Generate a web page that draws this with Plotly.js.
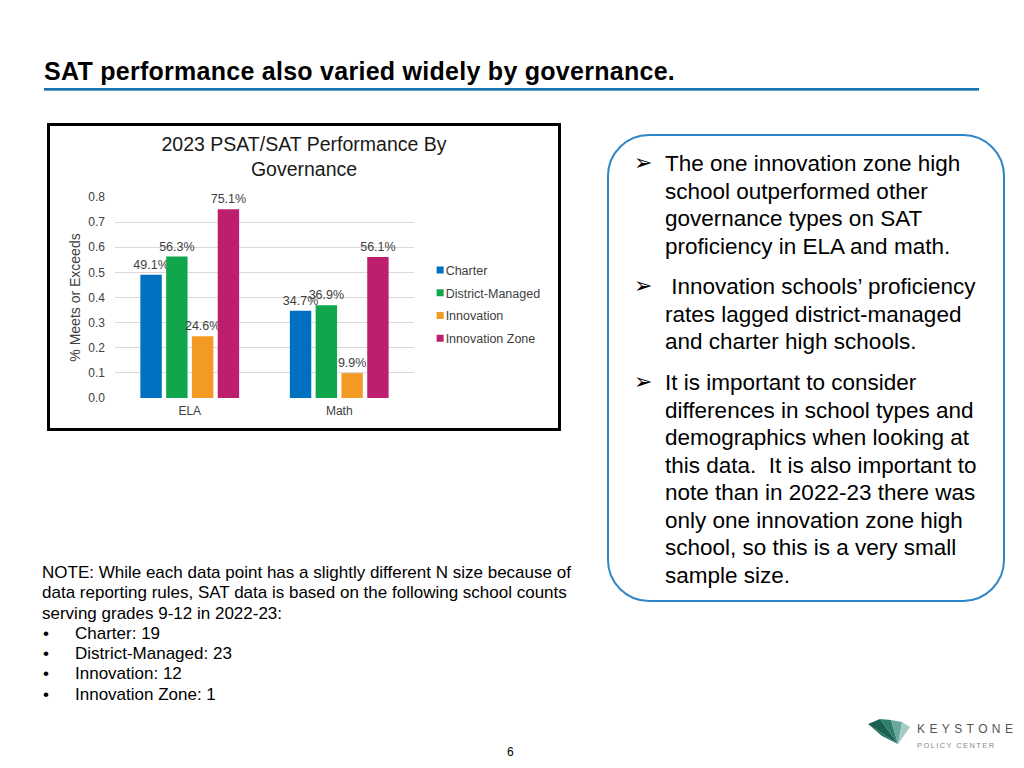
<!DOCTYPE html>
<html>
<head>
<meta charset="utf-8">
<script src="https://cdn.plot.ly/plotly-3.0.1.min.js"></script>
<style>
  html, body { margin:0; padding:0; width:1024px; height:768px; background:#fff; overflow:hidden;
    font-family: "Liberation Sans", Arial, Helvetica, sans-serif; color:#000; }
  #title { position:absolute; left:44px; top:57px; font-weight:bold; font-size:25px; letter-spacing:0.27px; white-space:nowrap; }
  #rule { position:absolute; left:44px; top:88px; width:935px; height:3px; background:linear-gradient(#1a74ad,#1a74ad 60%,#8cc0e0); }
  #chartbox { position:absolute; left:47px; top:123px; width:508px; height:302px; border:3px solid #000; }
  #chart { width:508px; height:302px; }
  #callout { position:absolute; left:607px; top:134px; width:394px; height:464px; border:2.5px solid #2f86c6; border-radius:42px; }
  .para { position:absolute; left:665px; width:330px; font-size:22.5px; line-height:27.5px; }
  .arrow { position:absolute; left:634px; font-size:22px; line-height:22px; font-family:"DejaVu Sans", sans-serif; }
  #note { position:absolute; left:42px; top:563px; font-size:17px; line-height:20.3px; width:545px; }
  #note .b { display:inline-block; width:32px; padding-left:1px; }
  #pg { position:absolute; left:507px; top:745px; font-size:12px; }
  #logo { position:absolute; left:860px; top:712px; }
</style>
</head>
<body>
<div id="title">SAT performance also varied widely by governance.</div>
<div id="rule"></div>
<div id="chartbox"><div id="chart"></div></div>

<div id="callout"></div>
<div class="arrow" style="top:152px">&#10146;</div>
<div class="para" style="top:150px">The one innovation zone high school outperformed other governance types on SAT proficiency in ELA and math.</div>
<div class="arrow" style="top:275px">&#10146;</div>
<div class="para" style="top:273px">&nbsp;Innovation schools’ proficiency rates lagged district-managed and charter high schools.</div>
<div class="arrow" style="top:371px">&#10146;</div>
<div class="para" style="top:369px">It is important to consider differences in school types and demographics when looking at this data.&nbsp; It is also important to note than in 2022-23 there was only one innovation zone high school, so this is a very small sample size.</div>

<div id="note">NOTE: While each data point has a slightly different N size because of data reporting rules, SAT data is based on the following school counts serving grades 9-12 in 2022-23:<br>
<span class="b">•</span>Charter: 19<br>
<span class="b">•</span>District-Managed: 23<br>
<span class="b">•</span>Innovation: 12<br>
<span class="b">•</span>Innovation Zone: 1</div>

<svg id="logo" width="164" height="50">
  <polygon points="8,12 20,7 38,32" fill="#1a5f52"/>
  <polygon points="8,12 38,32 22,24" fill="#246f60"/>
  <polygon points="20,7 31,8 38,32" fill="#2f7e6e"/>
  <polygon points="31,8 42,10 38,32" fill="#6aa79c"/>
  <polygon points="42,10 50,15 38,32" fill="#a2cbc4"/>
  <text x="57" y="21" font-family="Liberation Sans, Arial, sans-serif" font-size="12" letter-spacing="4.4" fill="#555">KEYSTONE</text>
  <text x="57" y="36" font-family="Liberation Sans, Arial, sans-serif" font-size="7.5" letter-spacing="1.4" fill="#888">POLICY CENTER</text>
</svg>
<div id="pg">6</div>

<script>
const categories = ["ELA", "Math"];
const seriesNames = ["Charter", "District-Managed", "Innovation", "Innovation Zone"];
const charter = [0.491, 0.347];
const districtManaged = [0.563, 0.369];
const innovation = [0.246, 0.099];
const innovationZone = [0.751, 0.561];
const yTicks = [0, 0.1, 0.2, 0.3, 0.4, 0.5, 0.6, 0.7, 0.8];
const colors = ["#0070c0", "#11a64b", "#f39a25", "#bd1f6e"];

const allValues = [charter, districtManaged, innovation, innovationZone];
const font = "Liberation Sans, Arial, Helvetica, sans-serif";

const traces = allValues.map((vals, i) => ({
  type: "bar",
  name: seriesNames[i],
  legendgroup: "g" + i,
  x: categories,
  y: vals,
  marker: { color: colors[i] },
  text: vals.map(v => (v * 100).toFixed(1) + "%"),
  textposition: "outside",
  constraintext: "none",
  cliponaxis: false,
  textfont: { family: font, size: 12.5, color: "#404040" },
  hoverinfo: "none"
}));

const layout = {
  width: 508, height: 302,
  margin: { l: 65, r: 141, t: 71, b: 30 },
  paper_bgcolor: "#fff", plot_bgcolor: "#fff",
  font: { family: font, color: "#404040" },
  title: {
    text: "2023 PSAT/SAT Performance By<br>Governance",
    font: { family: font, size: 19.5, color: "#1a1a1a" },
    x: 0.5, xref: "container", xanchor: "center",
    y: 0.918, yref: "container", yanchor: "middle"
  },
  barmode: "group",
  bargap: 0.31,
  bargroupgap: 0.17,
  xaxis: {
    type: "category",
    tickfont: { family: font, size: 12, color: "#404040" },
    showgrid: false, zeroline: false, showline: false,
    ticks: "", ticklabelstandoff: 4
  },
  yaxis: {
    range: [0, 0.8],
    tickvals: yTicks,
    ticktext: yTicks.map(v => v.toFixed(1)),
    tickfont: { family: font, size: 12, color: "#404040" },
    showgrid: true, gridcolor: "#d9d9d9", gridwidth: 1,
    zeroline: false, showline: false, ticks: "",
    ticklabelstandoff: 9,
    title: { text: "% Meets or Exceeds", font: { family: font, size: 14, color: "#404040" }, standoff: 4 }
  },
  showlegend: true,
  legend: {
    x: 0.972, xanchor: "left", y: 0.71, yanchor: "top",
    font: { family: font, size: 12.5, color: "#404040" },
    tracegroupgap: 3.5,
    bgcolor: "rgba(0,0,0,0)"
  }
};

Plotly.newPlot("chart", traces, layout, { displayModeBar: false, staticPlot: true }).then(gd => {
  // smaller legend swatches placed right next to their labels, as in the original
  gd.querySelectorAll(".legend .traces").forEach(tr => {
    const t = tr.querySelector("text.legendtext");
    if (!t) return;
    tr.querySelectorAll(".legendpoints path").forEach(p => {
      p.removeAttribute("transform");
      p.setAttribute("d", "M3.5,3.5H-3.5V-3.5H3.5Z");
      p.style.strokeWidth = "0px";
      const pr = p.getBoundingClientRect();
      const trc = t.getBoundingClientRect();
      const dx = (trc.left - 2) - pr.right;
      p.setAttribute("transform", "translate(" + dx + ",0)");
    });
  });
});
</script>
</body>
</html>
